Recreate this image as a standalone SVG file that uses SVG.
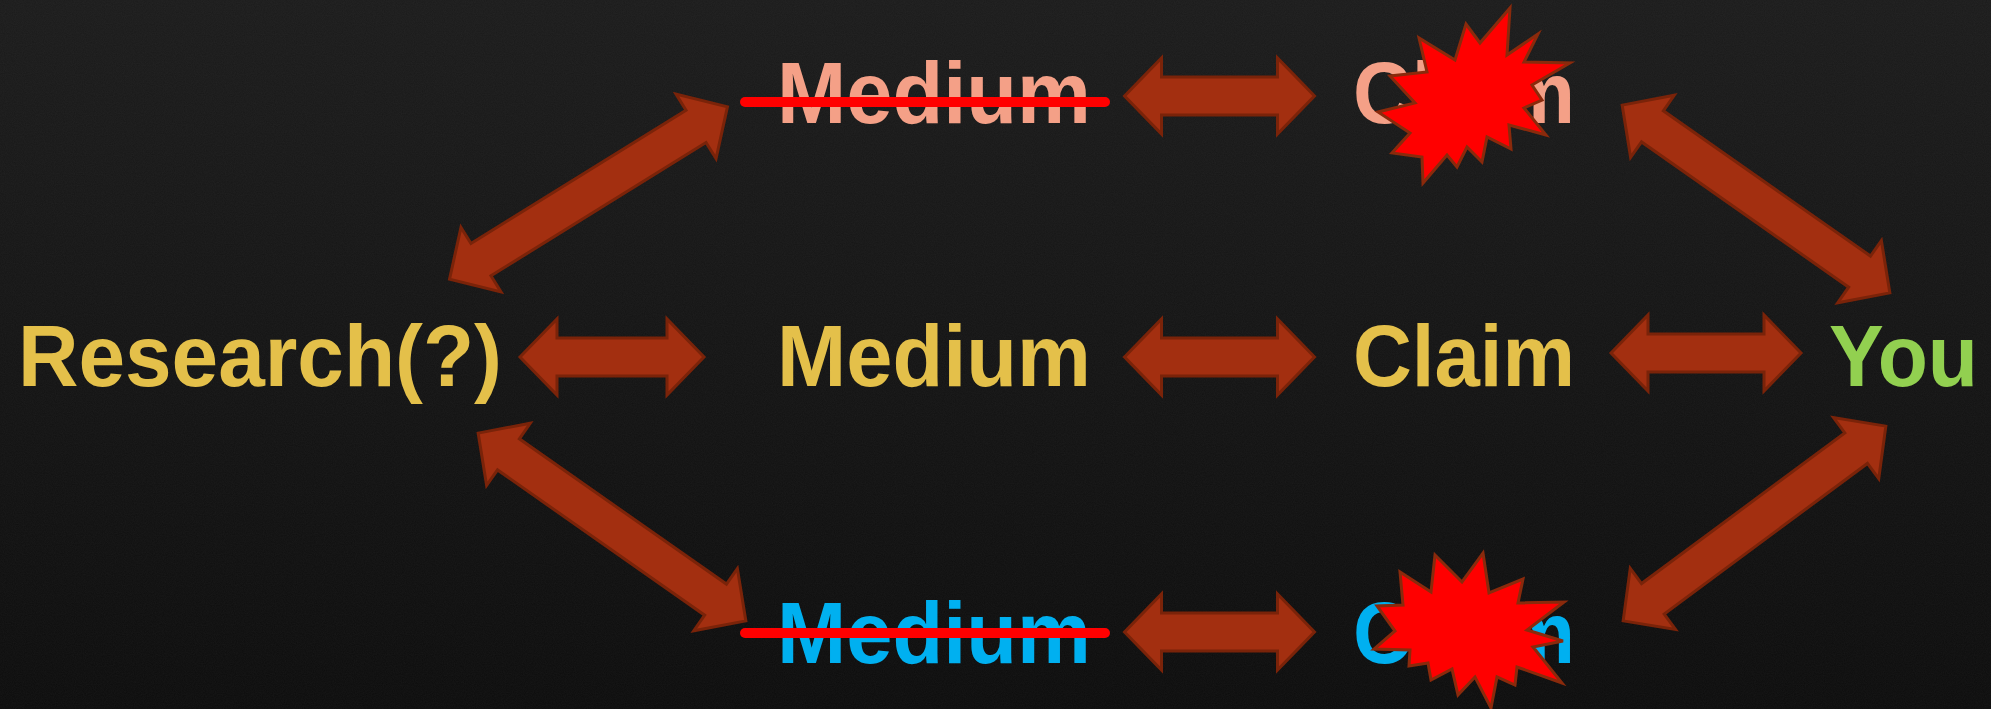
<svg xmlns="http://www.w3.org/2000/svg" width="1991" height="709" viewBox="0 0 1991 709">
  <defs>
    <linearGradient id="bg" x1="0" y1="0" x2="0" y2="1">
      <stop offset="0" stop-color="#1b1b1b"/>
      <stop offset="1" stop-color="#0c0c0c"/>
    </linearGradient>
    <filter id="noise" x="0" y="0" width="100%" height="100%">
      <feTurbulence type="fractalNoise" baseFrequency="0.9" numOctaves="2" seed="3" result="n"/>
      <feColorMatrix in="n" type="matrix" values="0 0 0 0 0.5  0 0 0 0 0.5  0 0 0 0 0.5  0 0 0 0.06 0"/>
    </filter>
    <path id="arrH" d="M-95 0 L-58 -38 L-58 -19 L58 -19 L58 -38 L95 0 L58 38 L58 19 L-58 19 L-58 38 Z"/>
    <path id="arrS" d="M-92 0 L-55 -38 L-55 -19 L55 -19 L55 -38 L92 0 L55 38 L55 19 L-55 19 L-55 38 Z"/>
    <path id="arrD" d="M-163.5 0 L-126.5 -38 L-126.5 -19 L126.5 -19 L126.5 -38 L163.5 0 L126.5 38 L126.5 19 L-126.5 19 L-126.5 38 Z"/>
  </defs>
  <style>
    .lbl { font-family: "Liberation Sans", Arial, sans-serif; font-weight: bold; font-size: 87px; }
    .yel { fill: #e4c04a; }
    .sal { fill: #f4a087; }
    .blu { fill: #00b0f0; }
    .grn { fill: #92d050; }
    .arr { fill: #a32f10; stroke: #7a2309; stroke-width: 3; stroke-linejoin: miter; }
    .strike { stroke: #ff0000; stroke-width: 10; stroke-linecap: round; }
    .boom { fill: #ff0000; stroke: #8a2a0c; stroke-width: 3; stroke-linejoin: miter; }
  </style>
  <rect width="1991" height="709" fill="url(#bg)"/>
  <rect width="1991" height="709" filter="url(#noise)"/>

  <g id="connectors">
    <use href="#arrH" class="arr" transform="translate(1219.5 96)"/>
    <use href="#arrS" class="arr" transform="translate(612 357)"/>
    <use href="#arrH" class="arr" transform="translate(1219.5 357)"/>
    <use href="#arrH" class="arr" transform="translate(1706 353)"/>
    <use href="#arrH" class="arr" transform="translate(1219.5 632)"/>
    <use href="#arrD" class="arr" transform="translate(588.5 193) rotate(-31.8)"/>
    <use href="#arrD" class="arr" transform="translate(612 527) rotate(35.05)"/>
    <use href="#arrD" class="arr" transform="translate(1756 199) rotate(35.05)"/>
    <use href="#arrD" class="arr" transform="translate(1754.5 523.5) rotate(-36.55)"/>
  </g>

  <g id="node-research">
    <text class="lbl yel" x="18" y="386" textLength="484" lengthAdjust="spacingAndGlyphs">Research(?)</text>
  </g>
  <g id="node-medium-top">
    <text class="lbl sal" x="777" y="123" textLength="314" lengthAdjust="spacingAndGlyphs">Medium</text>
    <line class="strike" x1="745" y1="102" x2="1105" y2="102"/>
  </g>
  <g id="node-medium-mid">
    <text class="lbl yel" x="777" y="386" textLength="314" lengthAdjust="spacingAndGlyphs">Medium</text>
  </g>
  <g id="node-medium-bot">
    <text class="lbl blu" x="777" y="663" textLength="314" lengthAdjust="spacingAndGlyphs">Medium</text>
    <line class="strike" x1="745" y1="633" x2="1105" y2="633"/>
  </g>
  <g id="node-claim-top">
    <text class="lbl sal" x="1353" y="123" textLength="222" lengthAdjust="spacingAndGlyphs">Claim</text>
    <polygon class="boom" points="1510,8 1507,55 1538,34 1524,62 1570,63 1532,85 1542,100 1524,108 1546,135 1509,125 1511,149 1487,137 1482,162 1467,147 1457,167 1447,155 1423,183 1422,157 1392,153 1410,133 1378,112 1415,103 1390,76 1427,72 1419,38 1455,60 1466,24 1480,43"/>
  </g>
  <g id="node-claim-mid">
    <text class="lbl yel" x="1353" y="386" textLength="222" lengthAdjust="spacingAndGlyphs">Claim</text>
  </g>
  <g id="node-claim-bot">
    <text class="lbl blu" x="1353" y="663" textLength="222" lengthAdjust="spacingAndGlyphs">Claim</text>
    <polygon class="boom" points="1483,553 1489,593 1523,579 1518,603 1564,602 1527,630 1563,641 1533,647 1562,683 1517,667 1515,685 1497,677 1491,708 1475,677 1458,695 1452,669 1431,680 1428,663 1409,666 1410,650 1374,649 1395,631 1377,606 1403,605 1400,572 1431,592 1435,555 1462,582"/>
  </g>
  <g id="node-you">
    <text class="lbl grn" x="1829" y="386" textLength="149" lengthAdjust="spacingAndGlyphs">You</text>
  </g>
</svg>
